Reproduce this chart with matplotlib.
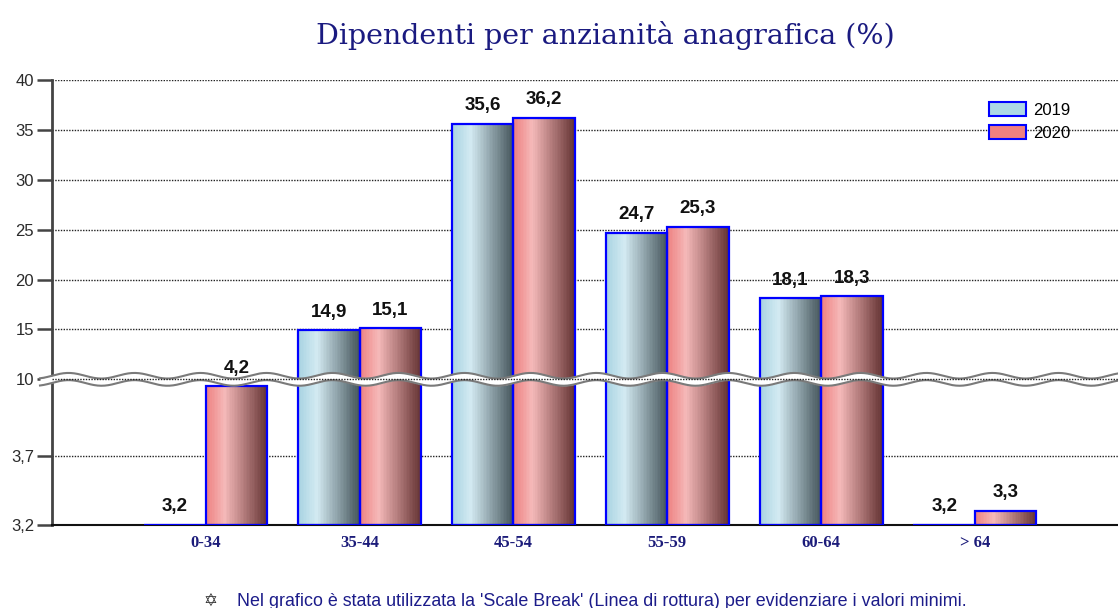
import numpy as np
import matplotlib.pyplot as plt
from matplotlib.colors import LinearSegmentedColormap
from matplotlib.patches import Patch

# Dati
categorie = ['0-34', '35-44', '45-54', '55-59', '60-64', '> 64']
valori_2019 = [3.2, 14.9, 35.6, 24.7, 18.1, 3.2]
valori_2020 = [4.2, 15.1, 36.2, 25.3, 18.3, 3.3]
yticks = [3.2, 3.7, 10, 15, 20, 25, 30, 35, 40]
yticklabels = ['3,2', '3,7', '10', '15', '20', '25', '30', '35', '40']

# Scala con interruzione (scale break) tra 4,25 e 10
Y0, B0, B1 = 3.2, 4.25, 10.0
K_BASSO, K_ALTO, K_GAP = 139.0, 10.0, 0.02
P0 = (B0 - Y0) * K_BASSO
P1 = P0 + (B1 - B0) * K_GAP


def fwd(v):
    v = np.asarray(v, dtype=float)
    return np.where(v <= B0, (v - Y0) * K_BASSO,
                    np.where(v < B1, P0 + (v - B0) * K_GAP, P1 + (v - B1) * K_ALTO))


def inv(p):
    p = np.asarray(p, dtype=float)
    return np.where(p <= P0, Y0 + p / K_BASSO,
                    np.where(p < P1, B0 + (p - P0) / K_GAP, B1 + (p - P1) / K_ALTO))


cmap_2019 = LinearSegmentedColormap.from_list(
    'c2019', [(0, '#a9d3e2'), (0.3, '#d3eaf2'), (1, '#47575d')])
cmap_2020 = LinearSegmentedColormap.from_list(
    'c2020', [(0, '#ee8282'), (0.3, '#f5b9b9'), (1, '#663535')])

fig = plt.figure(figsize=(11.18, 6.08), dpi=100)
ax = fig.add_axes([52 / 1118, 83 / 608, 1 - 52 / 1118, 445 / 608])
ax.set_yscale('function', functions=(fwd, inv))
ax.set_ylim(3.2, 40)
ax.set_xlim(-1, 5.93)

x = np.arange(len(categorie))
w = 0.4
n_fette = 40


def barre_sfumate(xc, valori, cmap):
    for xi, v in zip(xc, valori):
        if v <= Y0:
            continue
        bordi = np.linspace(xi - w / 2, xi + w / 2, n_fette + 1)
        colori = cmap(np.linspace(0, 1, n_fette))
        ax.bar(bordi[:-1], v - Y0, width=w / n_fette, bottom=Y0, align='edge',
               color=colori, linewidth=0, antialiased=False, zorder=2)
    ax.bar(xc, np.array(valori) - Y0, width=w, bottom=Y0, fill=False,
           edgecolor='#0000ff', linewidth=1.6, zorder=3)


barre_sfumate(x - w / 2, valori_2019, cmap_2019)
barre_sfumate(x + w / 2, valori_2020, cmap_2020)

# Etichette valori
for xc, valori in ((x - w / 2, valori_2019), (x + w / 2, valori_2020)):
    for xi, v in zip(xc, valori):
        ax.annotate(f'{v:.1f}'.replace('.', ','), (xi, v), xytext=(0, 7),
                    textcoords='offset points', ha='center', va='bottom',
                    fontsize=13.5, fontweight='bold', family='Liberation Sans',
                    color='#111111', zorder=6)

# Assi e griglia
ax.set_yticks(yticks)
ax.set_yticklabels(yticklabels, family='Liberation Sans', fontsize=12, color='#2b2b2b')
ax.set_xticks(x)
ax.set_xticklabels(categorie, family='Liberation Serif', fontweight='bold',
                   fontsize=12, color='#1c1c7a')
ax.tick_params(axis='x', length=0, pad=7)
ax.tick_params(axis='y', length=11, width=1.8, color='#444444', pad=2)
ax.grid(axis='y', linestyle=(0, (1, 1)), color='#222222', linewidth=1)
ax.set_axisbelow(True)
for s in ('top', 'right'):
    ax.spines[s].set_visible(False)
ax.spines['left'].set_color('#444444')
ax.spines['left'].set_linewidth(2)
ax.spines['bottom'].set_color('#111111')
ax.spines['bottom'].set_linewidth(1.5)

# Linea di rottura ondulata
tot = float(fwd(40))
yc = float(fwd(B1) + fwd(B0)) / 2 / tot
largh = 1066.0
xs = np.linspace(-12 / largh, 1, 600)
onda = 2.8 * np.sin(2 * np.pi * (xs * largh) / 66) / 445
semi = 3.6 / 445
ax.fill_between(xs, yc - semi + onda, yc + semi + onda, color='white',
                transform=ax.transAxes, clip_on=False, zorder=4, linewidth=0)
ax.plot(xs, yc + semi + onda, color='#7a7a7a', lw=1.5, transform=ax.transAxes,
        clip_on=False, zorder=5)
ax.plot(xs, yc - semi + onda, color='#7a7a7a', lw=1.5, transform=ax.transAxes,
        clip_on=False, zorder=5)
ax.plot([0, 1], [yc, yc], color='#222222', lw=1, linestyle=(0, (1, 1)),
        transform=ax.transAxes, zorder=5)

# Legenda
maniglie = [Patch(facecolor='#add8e6', edgecolor='#0000ff', linewidth=1.5, label='2019'),
            Patch(facecolor='#f08080', edgecolor='#0000ff', linewidth=1.5, label='2020')]
leg = fig.legend(handles=maniglie, loc='upper left', bbox_to_anchor=(989 / 1118, 1 - 102 / 608),
                 frameon=False, prop={'family': 'Liberation Sans', 'size': 12},
                 handlelength=2.2, handleheight=0.95, labelspacing=0.42,
                 handletextpad=0.45, borderaxespad=0, borderpad=0)

# Titolo e nota
fig.text(605 / 1118, 1 - 35 / 608, 'Dipendenti per anzianità anagrafica (%)',
         ha='center', va='center', family='DejaVu Serif', fontsize=20.5, color='#1a1a80')
fig.text(203 / 1118, 1 - 601 / 608, '\u2721', ha='left', va='center',
         family='DejaVu Sans', fontsize=12, fontweight='bold', color='#333333')
fig.text(237 / 1118, 1 - 601 / 608,
         "Nel grafico è stata utilizzata la 'Scale Break' (Linea di rottura) per evidenziare i valori minimi.",
         ha='left', va='center', family='Liberation Sans',
         fontsize=12.9, color='#1c1c8a')

fig.savefig('out.png', dpi=100)
